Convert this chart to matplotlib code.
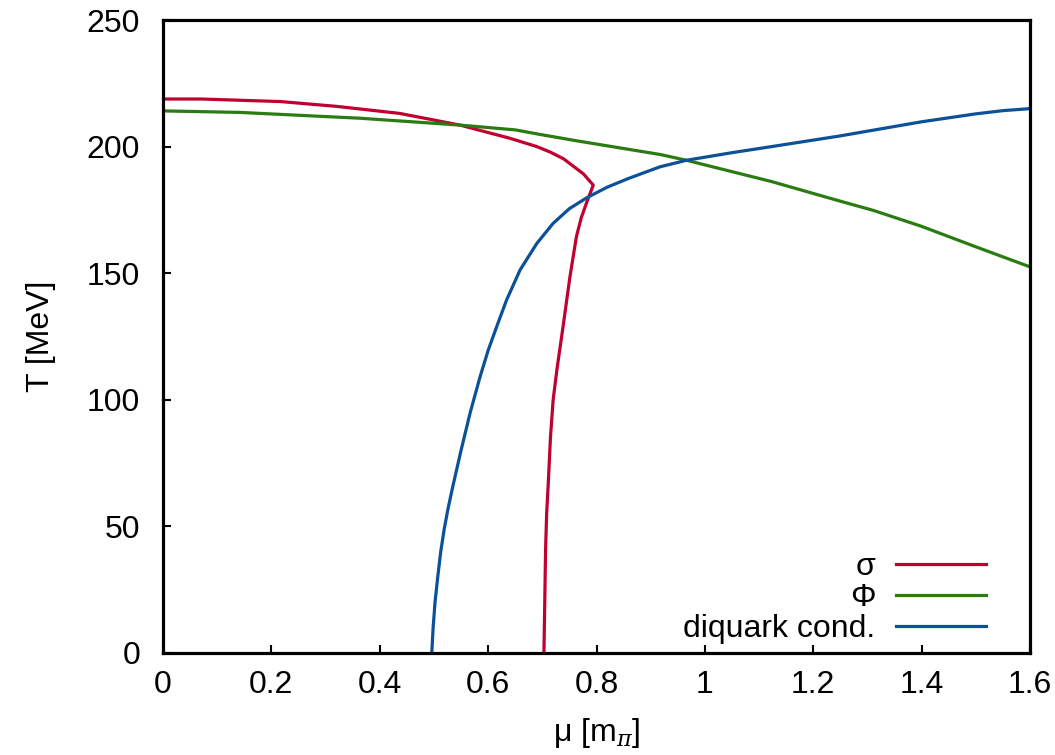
import numpy as np
import matplotlib
matplotlib.use('Agg')
import matplotlib.pyplot as plt

# sigma (chiral) transition line
sigma_mu = [0.0, 0.07, 0.216, 0.32, 0.437, 0.548, 0.640, 0.690, 0.715, 0.739, 0.757, 0.776,
            0.794, 0.782, 0.772, 0.763, 0.751, 0.739, 0.727, 0.720, 0.715, 0.711, 0.708,
            0.706, 0.7045, 0.703]
sigma_T = [218.8, 218.8, 217.8, 215.9, 213.1, 208.5, 203.3, 200.0, 197.8, 195.2, 192.3, 189.2,
           184.8, 178.0, 172.0, 164.5, 148.6, 130.0, 112.0, 100.0, 85.0, 67.0, 55.0,
           40.7, 20.0, 0.0]

# Polyakov loop (deconfinement) line
phi_mu = [0.0, 0.142, 0.364, 0.548, 0.65, 0.696, 0.763, 0.917, 0.966, 1.123, 1.249,
          1.311, 1.4, 1.499, 1.6]
phi_T = [214.1, 213.5, 211.2, 208.5, 206.6, 204.8, 202.3, 196.9, 194.6, 186.2, 178.5,
         174.8, 168.5, 160.5, 152.5]

# diquark condensation line
dq_mu = [0.496, 0.4985, 0.502, 0.507, 0.5125, 0.519, 0.526, 0.534, 0.550, 0.567, 0.585,
         0.600, 0.616, 0.634, 0.659, 0.690, 0.720, 0.750, 0.782, 0.820, 0.860, 0.917,
         0.966, 1.05, 1.123, 1.249, 1.311, 1.40, 1.499, 1.55, 1.6]
dq_T = [0.0, 10.0, 20.0, 30.0, 40.0, 49.0, 57.0, 65.0, 80.0, 95.0, 109.0,
        119.5, 129.0, 139.4, 151.3, 161.8, 169.7, 175.5, 179.8, 184.0, 187.5, 192.0,
        194.6, 197.6, 200.0, 204.2, 206.5, 209.8, 212.9, 214.2, 215.0]

x_ticks = [0, 0.2, 0.4, 0.6, 0.8, 1.0, 1.2, 1.4, 1.6]
x_ticklabels = ['0', '0.2', '0.4', '0.6', '0.8', '1', '1.2', '1.4', '1.6']
y_ticks = [0, 50, 100, 150, 200, 250]

plt.rcParams['font.family'] = ['Liberation Sans', 'DejaVu Sans']
plt.rcParams['mathtext.fontset'] = 'custom'
plt.rcParams['mathtext.it'] = 'DejaVu Serif:italic'
plt.rcParams['mathtext.rm'] = 'Liberation Sans'

fs = 23
fig = plt.figure(figsize=(10.55, 7.55), dpi=100)
ax = fig.add_axes([163 / 1055, 1 - 653 / 755, (1030 - 163) / 1055, (653 - 20) / 755])

ax.plot(sigma_mu, sigma_T, color='#c00030', lw=2.3, label='σ')
ax.plot(phi_mu, phi_T, color='#2a7b12', lw=2.3, label='Φ')
ax.plot(dq_mu, dq_T, color='#0b5198', lw=2.3, label='diquark cond.')

ax.set_xlim(0, 1.6)
ax.set_ylim(0, 250)
ax.set_xticks(x_ticks)
ax.set_xticklabels(x_ticklabels)
ax.set_yticks(y_ticks)
ax.tick_params(direction='in', length=6, width=1.5, labelsize=fs)
ax.tick_params(axis='y', pad=16.5)
ax.tick_params(axis='x', pad=12)
for s in ax.spines.values():
    s.set_linewidth(2.3)

ax.set_xlabel(r'μ [m$_\pi$]', fontsize=fs, labelpad=12)
ax.set_ylabel('T [MeV]', fontsize=fs, labelpad=22)

ax.legend(loc='lower right', markerfirst=False, frameon=False, fontsize=fs,
          handlelength=2.8, handletextpad=0.66, labelspacing=0.03,
          borderpad=0, borderaxespad=0,
          bbox_to_anchor=(0.949, 0.014))

fig.savefig('out.png', dpi=100)
